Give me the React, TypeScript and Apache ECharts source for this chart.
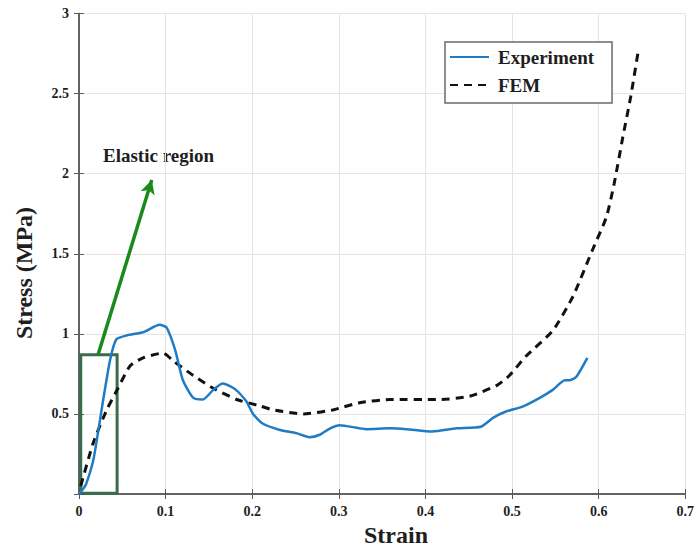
import React, { useEffect, useRef } from "react";
import * as echarts from "echarts";

// Experimental stress–strain curve
const expStrain = [
  0, 0.008, 0.0165, 0.028, 0.036, 0.043, 0.055, 0.074, 0.093, 0.101, 0.111, 0.12,
  0.132, 0.143, 0.155, 0.166, 0.18, 0.193, 0.201, 0.212, 0.232, 0.251, 0.266, 0.278,
  0.29, 0.301, 0.332, 0.359, 0.378, 0.408, 0.436, 0.464, 0.478, 0.493, 0.512, 0.532,
  0.547, 0.561, 0.566, 0.574, 0.587,
];
const expStress = [
  0, 0.06, 0.21, 0.59, 0.84, 0.965, 0.99, 1.01, 1.056, 1.04, 0.9, 0.71,
  0.6, 0.59, 0.65, 0.69, 0.655, 0.58, 0.5, 0.44, 0.4, 0.38, 0.355, 0.37,
  0.41, 0.43, 0.405, 0.41, 0.405, 0.39, 0.41, 0.42, 0.475, 0.515, 0.545, 0.6,
  0.65, 0.71, 0.71, 0.73, 0.85,
];

// FEM prediction
const femStrain = [
  0.002, 0.0165, 0.032, 0.045, 0.059, 0.074, 0.097, 0.109, 0.132, 0.155, 0.182, 0.209,
  0.224, 0.259, 0.293, 0.324, 0.359, 0.416, 0.451, 0.483, 0.497, 0.516, 0.547, 0.57,
  0.593, 0.609, 0.618, 0.628, 0.637, 0.646,
];
const femStress = [
  0.05, 0.32, 0.525, 0.66, 0.8, 0.85, 0.88, 0.83, 0.74, 0.66, 0.59, 0.55,
  0.525, 0.5, 0.525, 0.57, 0.59, 0.59, 0.61, 0.68, 0.74, 0.86, 1.02, 1.23,
  1.525, 1.73, 1.94, 2.23, 2.48, 2.775,
];

// Axis ticks
const xTicks = [0, 0.1, 0.2, 0.3, 0.4, 0.5, 0.6, 0.7];
const yTicks = [0, 0.5, 1, 1.5, 2, 2.5, 3];

// Elastic region box (strain range, stress range) and arrow pointing at its label
const elasticBoxStrain = [0.002, 0.044];
const elasticBoxStress = [0.004, 0.87];
const arrowFrom = [0.022, 0.87];
const arrowTo = [0.084, 1.96];

const FONT = "'Liberation Serif', 'Times New Roman', serif";
const TEXT = "#1e1e1e";
const FRAME = "#5a5a5a";

export default function App() {
  const ref = useRef<HTMLDivElement>(null);

  useEffect(() => {
    if (!ref.current) return;
    const chart = echarts.init(ref.current, null, { renderer: "svg" });

    const expData = expStrain.map((x, i) => [x, expStress[i]]);
    const femData = femStrain.map((x, i) => [x, femStress[i]]);

    const axisCommon = {
      type: "value" as const,
      axisLine: { show: true, lineStyle: { color: FRAME, width: 1.5 } },
      axisTick: { show: true, inside: true, length: 5, lineStyle: { color: FRAME } },
    };

    chart.setOption({
      animation: false,
      backgroundColor: "#ffffff",
      grid: { left: 79, right: 11, top: 13.5, bottom: 53, containLabel: false },
      legend: {
        orient: "vertical",
        left: 445,
        top: 42,
        padding: [5, 18, 8, 4],
        itemGap: 8,
        itemWidth: 39,
        itemHeight: 14,
        itemStyle: { opacity: 0 },
        backgroundColor: "#ffffff",
        borderColor: "#6a6a6a",
        borderWidth: 1.5,
        borderRadius: 0,
        textStyle: {
          fontFamily: FONT,
          fontWeight: "bold",
          fontSize: 19,
          color: TEXT,
          lineHeight: 20,
          padding: [0, 0, 0, 4],
        },
        data: ["Experiment", "FEM"],
      },
      xAxis: [
        {
          ...axisCommon,
          min: 0,
          max: 0.7,
          interval: 0.1,
          position: "bottom",
          axisLabel: {
            fontFamily: FONT,
            fontWeight: "bold",
            fontSize: 14,
            color: TEXT,
            margin: 10,
            formatter: (v: number) => {
              const t = xTicks.find((k) => Math.abs(k - v) < 1e-9);
              return t === undefined ? "" : String(t);
            },
          },
          splitLine: { show: true, lineStyle: { color: "#e4e4e4", width: 1 } },
        },
        {
          ...axisCommon,
          min: 0,
          max: 0.7,
          interval: 0.1,
          position: "top",
          axisLabel: { show: false },
          splitLine: { show: false },
        },
      ],
      yAxis: [
        {
          ...axisCommon,
          min: 0,
          max: 3,
          interval: 0.5,
          position: "left",
          axisLabel: {
            fontFamily: FONT,
            fontWeight: "bold",
            fontSize: 14,
            color: TEXT,
            margin: 10,
            formatter: (v: number) => {
              const t = yTicks.find((k) => Math.abs(k - v) < 1e-9);
              return t === undefined || t === 0 ? "" : String(t);
            },
          },
          splitLine: { show: true, lineStyle: { color: "#e4e4e4", width: 1 } },
        },
        {
          ...axisCommon,
          min: 0,
          max: 3,
          interval: 0.5,
          position: "right",
          axisLabel: { show: false },
          splitLine: { show: false },
        },
      ],
      series: [
        {
          name: "FEM",
          type: "line",
          data: femData,
          smooth: 0.2,
          symbol: "none",
          lineStyle: { color: "#111111", width: 3, type: [8, 6] },
          itemStyle: { color: "#111111" },
          z: 2,
          markArea: {
            silent: true,
            itemStyle: {
              color: "rgba(0,0,0,0)",
              borderColor: "#3a6b4c",
              borderWidth: 3,
            },
            data: [
              [
                { coord: [elasticBoxStrain[0], elasticBoxStress[1]] },
                { coord: [elasticBoxStrain[1], elasticBoxStress[0]] },
              ],
            ],
          },
          markLine: {
            silent: true,
            symbol: ["none", "arrow"],
            symbolSize: [11, 14],
            label: { show: false },
            lineStyle: { color: "#1a8a1a", width: 3.5, type: "solid" },
            data: [[{ coord: arrowFrom }, { coord: arrowTo }]],
          },
        },
        {
          name: "Experiment",
          type: "line",
          data: expData,
          smooth: 0.2,
          symbol: "none",
          lineStyle: { color: "#1f7cc4", width: 2.5 },
          itemStyle: { color: "#1f7cc4" },
          z: 3,
        },
      ],
      graphic: [
        {
          type: "text",
          left: 103,
          top: 146,
          style: {
            text: "Elastic region",
            fontFamily: FONT,
            fontWeight: "bold",
            fontSize: 19,
            fill: TEXT,
          },
        },
        {
          type: "text",
          x: 396,
          y: 535,
          style: {
            text: "Strain",
            fontFamily: FONT,
            fontWeight: "bold",
            fontSize: 24,
            fill: TEXT,
            align: "center",
            verticalAlign: "middle",
          },
        },
        {
          type: "text",
          x: 24,
          y: 273,
          rotation: Math.PI / 2,
          style: {
            text: "Stress (MPa)",
            fontFamily: FONT,
            fontWeight: "bold",
            fontSize: 24,
            fill: TEXT,
            align: "center",
            verticalAlign: "middle",
          },
        },
      ],
    });

    return () => chart.dispose();
  }, []);

  return (
    <div
      ref={ref}
      style={{ position: "fixed", left: 0, top: 0, width: 697, height: 547, background: "#fff" }}
    />
  );
}
